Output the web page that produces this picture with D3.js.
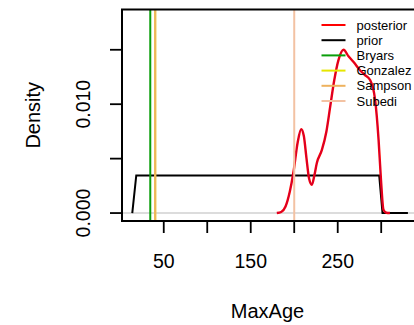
<!DOCTYPE html>
<html>
<head>
<meta charset="utf-8">
<script src="https://cdn.jsdelivr.net/npm/d3@7"></script>
<style>
  body { margin: 0; background: #fff; }
  svg { display: block; font-family: "Liberation Sans", Arial, sans-serif; }
</style>
</head>
<body>
<svg id="chart" width="414" height="325"></svg>
<script>
// posterior density of MaxAge
const postAge = [180, 185, 190, 195, 199, 204, 208, 211, 214, 217, 220.3, 223, 226, 231.8, 237, 241.4, 246, 251, 256.7, 262.4, 268, 275.9, 281, 287.4, 293, 297, 299.7, 302.6, 306, 310];
const postDens = [0, 0.0001, 0.0006, 0.002, 0.0037, 0.0065, 0.0077, 0.0071, 0.0051, 0.0032, 0.0026, 0.0034, 0.0046, 0.0058, 0.0075, 0.0098, 0.0122, 0.0141, 0.0150, 0.0144, 0.0139, 0.0131, 0.0127, 0.0122, 0.0104, 0.0067, 0.0031, 0.0003, 0.00003, 0];

// prior (uniform-ish density)
const priorAge = [13.8, 18.4, 297.7, 301.5, 330.7];
const priorDens = [0, 0.00345, 0.00345, 0, 0];

// reference ages
const refNames = ["Bryars", "Gonzalez", "Sampson", "Subedi"];
const refAges = [34.5, 40.2, 40.2, 200];
const refColors = ["#0a9e0a", "#e6e600", "#eeb25e", "#f3c2a3"];

const legendNames = ["posterior", "prior"].concat(refNames);
const legendColors = ["#ff0000", "#000000"].concat(refColors);

const xTicks = [50, 100, 150, 200, 250, 300];
const xTickLabels = ["50", "", "150", "", "250", ""];
const yTicks = [0, 0.005, 0.010, 0.015];
const yTickLabels = ["0.000", "", "0.010", ""];

const svg = d3.select("#chart");
const plotL = 122, plotR = 416, plotT = 9.5, plotB = 221;

const x = d3.scaleLinear().domain([2, 340]).range([plotL, plotR]);
const y = d3.scaleLinear().domain([-0.00073, 0.0187]).range([plotB, plotT]);

const line = d3.line().x(d => x(d[0])).y(d => y(d[1])).curve(d3.curveMonotoneX);

// zero line
svg.append("line")
  .attr("x1", plotL).attr("x2", plotR)
  .attr("y1", y(0)).attr("y2", y(0))
  .attr("stroke", "#d0d0d0").attr("stroke-width", 1.5);

// prior
svg.append("path")
  .attr("d", d3.line().x(d => x(d[0])).y(d => y(d[1]))(d3.zip(priorAge, priorDens)))
  .attr("fill", "none").attr("stroke", "#000").attr("stroke-width", 2);

// posterior
const post = d3.zip(postAge, postDens);
svg.append("path")
  .attr("d", line(post))
  .attr("fill", "none").attr("stroke", "#ff0000").attr("stroke-width", 2.4);
svg.append("path")
  .attr("d", line(post))
  .attr("fill", "none").attr("stroke", "rgba(90,0,170,0.45)").attr("stroke-width", 0.8);

// reference lines
svg.append("g")
  .selectAll("line")
  .data(refAges)
  .join("line")
  .attr("x1", d => x(d)).attr("x2", d => x(d))
  .attr("y1", plotT).attr("y2", plotB)
  .attr("stroke", (d, i) => refColors[i])
  .attr("stroke-width", 2);

// box
svg.append("rect")
  .attr("x", plotL).attr("y", plotT)
  .attr("width", plotR - plotL).attr("height", plotB - plotT)
  .attr("fill", "none").attr("stroke", "#000").attr("stroke-width", 2);

// x axis
const gx = svg.append("g");
gx.selectAll("line")
  .data(xTicks)
  .join("line")
  .attr("x1", d => x(d)).attr("x2", d => x(d))
  .attr("y1", plotB).attr("y2", plotB + 12)
  .attr("stroke", "#000").attr("stroke-width", 1.8);
gx.selectAll("text")
  .data(xTicks)
  .join("text")
  .attr("x", d => x(d)).attr("y", 268)
  .attr("text-anchor", "middle")
  .attr("font-size", "19.5px")
  .text((d, i) => xTickLabels[i]);

// y axis
const gy = svg.append("g");
gy.selectAll("line")
  .data(yTicks)
  .join("line")
  .attr("x1", plotL - 12).attr("x2", plotL)
  .attr("y1", d => y(d)).attr("y2", d => y(d))
  .attr("stroke", "#000").attr("stroke-width", 1.8);
gy.selectAll("text")
  .data(yTicks)
  .join("text")
  .attr("transform", d => `translate(90,${y(d)}) rotate(-90)`)
  .attr("text-anchor", "middle")
  .attr("font-size", "19.5px")
  .text((d, i) => yTickLabels[i]);

// axis titles
svg.append("text")
  .attr("x", (plotL + 413) / 2).attr("y", 318)
  .attr("text-anchor", "middle")
  .attr("font-size", "20px")
  .text("MaxAge");
svg.append("text")
  .attr("transform", `translate(40,${(plotT + plotB) / 2}) rotate(-90)`)
  .attr("text-anchor", "middle")
  .attr("font-size", "20px")
  .text("Density");

// legend
const legend = svg.append("g");
legendNames.forEach((name, i) => {
  const ly = 25 + i * 15.2;
  legend.append("line")
    .attr("x1", 321.5).attr("x2", 345.5)
    .attr("y1", ly).attr("y2", ly)
    .attr("stroke", legendColors[i]).attr("stroke-width", 2);
  legend.append("text")
    .attr("x", 356.5).attr("y", ly + 4.6)
    .attr("font-size", "13px")
    .text(name);
});
</script>
</body>
</html>
